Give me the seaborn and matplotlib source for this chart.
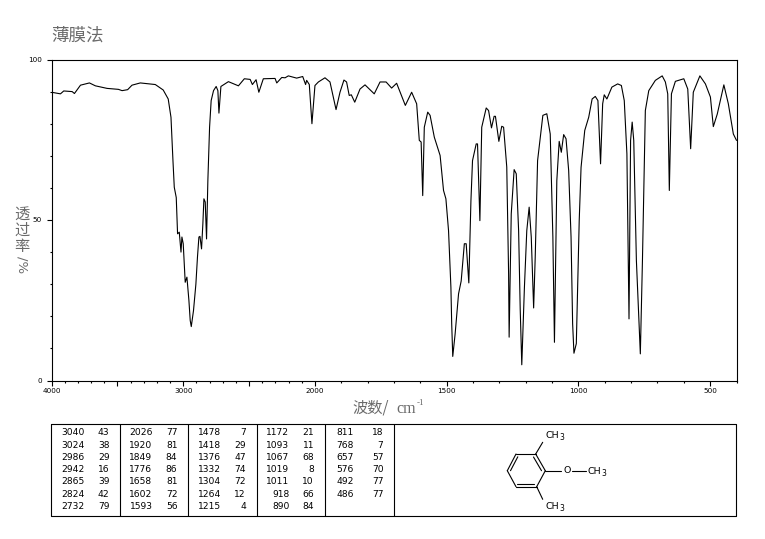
import matplotlib

matplotlib.use("Agg")
import matplotlib.pyplot as plt
import numpy as np
import pandas as pd
import seaborn as sns

# spectrum: wavenumber (cm-1) and transmittance (%)
WAVENUMBER = [
    4000, 3932, 3907, 3843, 3826, 3780, 3712, 3667, 3578, 3492, 3464, 3422, 3389, 3326, 3212,
    3152, 3114, 3093, 3078, 3068, 3053, 3043, 3030, 3017, 3010, 3000, 2985, 2972, 2957, 2947,
    2939, 2922, 2904, 2892, 2881, 2873, 2861, 2851, 2843, 2833, 2823, 2813, 2800, 2788, 2770,
    2750, 2737, 2729, 2714, 2657, 2581, 2536, 2492, 2475, 2447, 2426, 2392, 2303, 2290, 2252,
    2227, 2202, 2139, 2093, 2071, 2063, 2043, 2023, 2000, 1987, 1962, 1943, 1920, 1905, 1890,
    1880, 1870, 1862, 1849, 1829, 1810, 1775, 1753, 1730, 1709, 1690, 1657, 1633, 1614, 1604,
    1597, 1591, 1585, 1572, 1563, 1547, 1525, 1512, 1503, 1493, 1484, 1481, 1477, 1468, 1455,
    1445, 1433, 1426, 1416, 1408, 1402, 1388, 1383, 1374, 1367, 1350, 1341, 1330, 1320, 1315,
    1302, 1291, 1284, 1272, 1265, 1263, 1255, 1244, 1236, 1227, 1221, 1215, 1205, 1196, 1187,
    1179, 1170, 1164, 1155, 1135, 1120, 1107, 1097, 1091, 1082, 1073, 1065, 1056, 1047, 1037,
    1028, 1022, 1017, 1008, 997, 990, 976, 961, 948, 936, 926, 916, 908, 902, 892,
    873, 851, 837, 826, 816, 808, 802, 796, 790, 780, 765, 757, 746, 733, 708,
    682, 670, 661, 655, 647, 632, 600, 585, 574, 564, 539, 518, 499, 488, 473,
    448, 431, 412, 400,
]
TRANSMITTANCE = [
    89.8, 89.3, 90.2, 90.0, 89.4, 92.0, 92.7, 91.8, 91.0, 90.7, 90.3, 90.6, 92.0, 92.7, 92.2,
    90.5, 87.7, 82.0, 68.5, 60.2, 57.0, 45.7, 46.2, 40.0, 44.7, 42.6, 30.6, 32.2, 25.0, 18.7,
    16.8, 21.8, 30.0, 38.4, 44.7, 44.9, 41.0, 48.8, 56.6, 55.6, 44.1, 62.3, 78.9, 87.2, 90.3,
    91.6, 90.3, 83.3, 91.6, 93.1, 91.8, 94.0, 93.8, 92.2, 93.7, 89.8, 94.0, 94.1, 92.7, 94.4,
    94.3, 94.9, 94.2, 94.7, 92.2, 93.5, 92.2, 80.0, 91.9, 93.0, 94.3, 93.0, 84.4, 89.8, 93.6,
    93.0, 88.8, 89.0, 86.7, 90.8, 92.1, 89.3, 93.0, 93.0, 91.1, 92.6, 85.7, 89.8, 86.2, 74.8,
    74.3, 57.6, 78.9, 83.6, 82.6, 75.8, 70.1, 59.2, 56.6, 46.7, 29.0, 17.7, 7.5, 14.5, 27.0,
    31.0, 42.6, 42.6, 30.4, 56.0, 68.5, 73.7, 73.7, 49.8, 78.9, 84.9, 84.1, 78.7, 82.3, 82.3,
    74.5, 79.2, 78.9, 66.5, 33.2, 13.5, 51.9, 65.7, 64.4, 46.7, 22.3, 4.9, 29.0, 46.7, 54.0,
    44.7, 22.6, 38.4, 68.5, 82.6, 83.1, 76.8, 44.7, 11.9, 62.3, 74.5, 71.1, 76.6, 75.3, 65.4,
    44.7, 17.7, 8.5, 11.5, 49.8, 66.4, 77.9, 82.0, 87.7, 88.5, 87.2, 67.5, 86.2, 89.0, 87.7,
    91.4, 92.4, 91.9, 87.2, 70.6, 19.2, 74.8, 80.5, 74.8, 37.4, 8.3, 37.4, 84.1, 90.3, 93.5,
    94.9, 93.0, 89.3, 59.2, 89.3, 93.2, 94.0, 90.8, 72.2, 89.8, 94.9, 92.4, 88.3, 79.1, 83.0,
    92.1, 86.2, 76.8, 74.8,
]

# peak table, one list per block
PEAK_WN = [
    [3040, 3024, 2986, 2942, 2865, 2824, 2732],
    [2026, 1920, 1849, 1776, 1658, 1602, 1593],
    [1478, 1418, 1376, 1332, 1304, 1264, 1215],
    [1172, 1093, 1067, 1019, 1011, 918, 890],
    [811, 768, 657, 576, 492, 486],
]
PEAK_T = [
    [43, 38, 29, 16, 39, 42, 79],
    [77, 81, 84, 86, 81, 72, 56],
    [7, 29, 47, 74, 72, 12, 4],
    [21, 11, 68, 8, 10, 66, 84],
    [18, 7, 57, 70, 77, 77],
]

X_MAJOR = [4000, 3500, 3000, 2500, 2000, 1500, 1000, 500]
X_LABELS = ["4000", "", "3000", "", "2000", "1500", "1000", "500"]
Y_MAJOR = [0, 50, 100]

GREY = "#6a6a6a"
CJK = ["Noto Sans CJK SC", "DejaVu Sans"]
W, H = 765, 539


def _fwd(w):
    # the axis runs at half scale above 2000 cm-1
    w = np.asarray(w, dtype=float)
    return np.where(w > 2000, 2000 + (w - 2000) / 2, w)


def _inv(p):
    p = np.asarray(p, dtype=float)
    return np.where(p > 2000, 2000 + (p - 2000) * 2, p)


sns.set_theme(style="ticks")
plt.rcParams["font.family"] = CJK

fig = plt.figure(figsize=(W / 100, H / 100), dpi=100, facecolor="white")
ax = fig.add_axes([51.5 / W, 1 - 380.5 / H, 685 / W, 321 / H])

spectrum = pd.DataFrame({"wn": WAVENUMBER, "t": TRANSMITTANCE})
sns.lineplot(data=spectrum, x="wn", y="t", color="black", lw=0.8, estimator=None, ax=ax)

ax.set_xscale("function", functions=(_fwd, _inv))
ax.set_xlim(4000, 400)
ax.set_ylim(0, 100)
ax.set_xticks(X_MAJOR, X_LABELS, family="DejaVu Sans", fontsize=5.2)
ax.set_xticks(np.arange(400, 4000, 100), minor=True)
ax.set_yticks(Y_MAJOR, [str(v) for v in Y_MAJOR], family="DejaVu Sans", fontsize=5.2)
ax.set_yticks(np.arange(0, 100, 10), minor=True)
ax.tick_params(which="major", length=3.6, width=0.8, color="black", labelcolor="black")
ax.tick_params(which="minor", length=1.7, width=0.8, color="black")
ax.tick_params(axis="x", pad=2)
ax.tick_params(axis="y", pad=3.4)
ax.set_xlabel("")
ax.set_ylabel("")
for spine in ax.spines.values():
    spine.set_visible(True)
    spine.set_color("black")
    spine.set_linewidth(0.8)

# overlay in pixel coordinates for the titles, table and structure
ov = fig.add_axes([0, 0, 1, 1])
ov.set_xlim(0, W)
ov.set_ylim(H, 0)
ov.axis("off")
ov.patch.set_alpha(0)

ov.text(51, 36, "薄膜法", fontsize=12.6, color=GREY, va="center", ha="left", family=CJK)
ov.text(352, 408, "波数/", fontsize=11, color=GREY, va="center", ha="left", family=CJK)
ov.text(396, 409, "cm", fontsize=11.5, color=GREY, va="center", ha="left", family="Liberation Serif")
ov.text(417, 403, "-1", fontsize=6.5, color=GREY, va="center", ha="left", family="Liberation Serif")
for i, ch in enumerate("透过率"):
    ov.text(22, 214 + i * 16.5, ch, fontsize=11, color=GREY, va="center", ha="center", family=CJK)
ov.text(22, 265, "/%", fontsize=9.5, color=GREY, va="center", ha="center", rotation=-90,
        family="DejaVu Sans")

# peak table
dividers = [51.5, 120.5, 188.5, 257.5, 325.5, 394.5, 736.5]
ov.plot([51.5, 736.5, 736.5, 51.5, 51.5], [423.5, 423.5, 515.5, 515.5, 423.5], color="black", lw=0.8)
for x in dividers[1:-1]:
    ov.plot([x, x], [423.5, 515.5], color="black", lw=0.8)

wn_right = [84.5, 152.5, 221.5, 289.5, 354]
t_right = [109.5, 177.5, 246, 314, 383.5]
for col in range(len(PEAK_WN)):
    for row, (wn, t) in enumerate(zip(PEAK_WN[col], PEAK_T[col])):
        y = 432.8 + row * 12.3
        ov.text(wn_right[col], y, str(wn), fontsize=6.6, ha="right", va="center",
                family="DejaVu Sans", color="black")
        ov.text(t_right[col], y, str(t), fontsize=6.6, ha="right", va="center",
                family="DejaVu Sans", color="black")

# 2,6-dimethylanisole sketch
bonds = [
    ((535.7, 454), (545.3, 470.7)), ((545.3, 470.7), (536.7, 486.7)), ((536.7, 486.7), (516, 486.7)),
    ((516, 486.7), (507.3, 470.7)), ((507.3, 470.7), (516, 454)), ((516, 454), (535.7, 454)),
    ((533.5, 457), (541.5, 470.7)), ((534.5, 484.4), (517.5, 484.4)), ((510.5, 470.7), (517.8, 456.8)),
    ((535.7, 454), (542.7, 442.3)), ((536.7, 486.7), (542.7, 499.3)),
    ((545.3, 470.7), (561.5, 470.7)), ((571.8, 470.7), (586, 470.7)),
]
for start, end in bonds:
    ov.plot([start[0], end[0]], [start[1], end[1]], color="black", lw=0.8)
ov.text(566.7, 470.7, "O", fontsize=6.8, ha="center", va="center", family="DejaVu Sans", color="black")
for x, y in [(546, 436), (587.5, 471), (546, 506.5)]:
    ov.text(x, y, "CH", fontsize=6.8, ha="left", va="center", family="DejaVu Sans", color="black")
    ov.text(x + 13.5, y + 2, "3", fontsize=5.5, ha="left", va="center", family="DejaVu Sans", color="black")

fig.savefig("out.png", dpi=100)
